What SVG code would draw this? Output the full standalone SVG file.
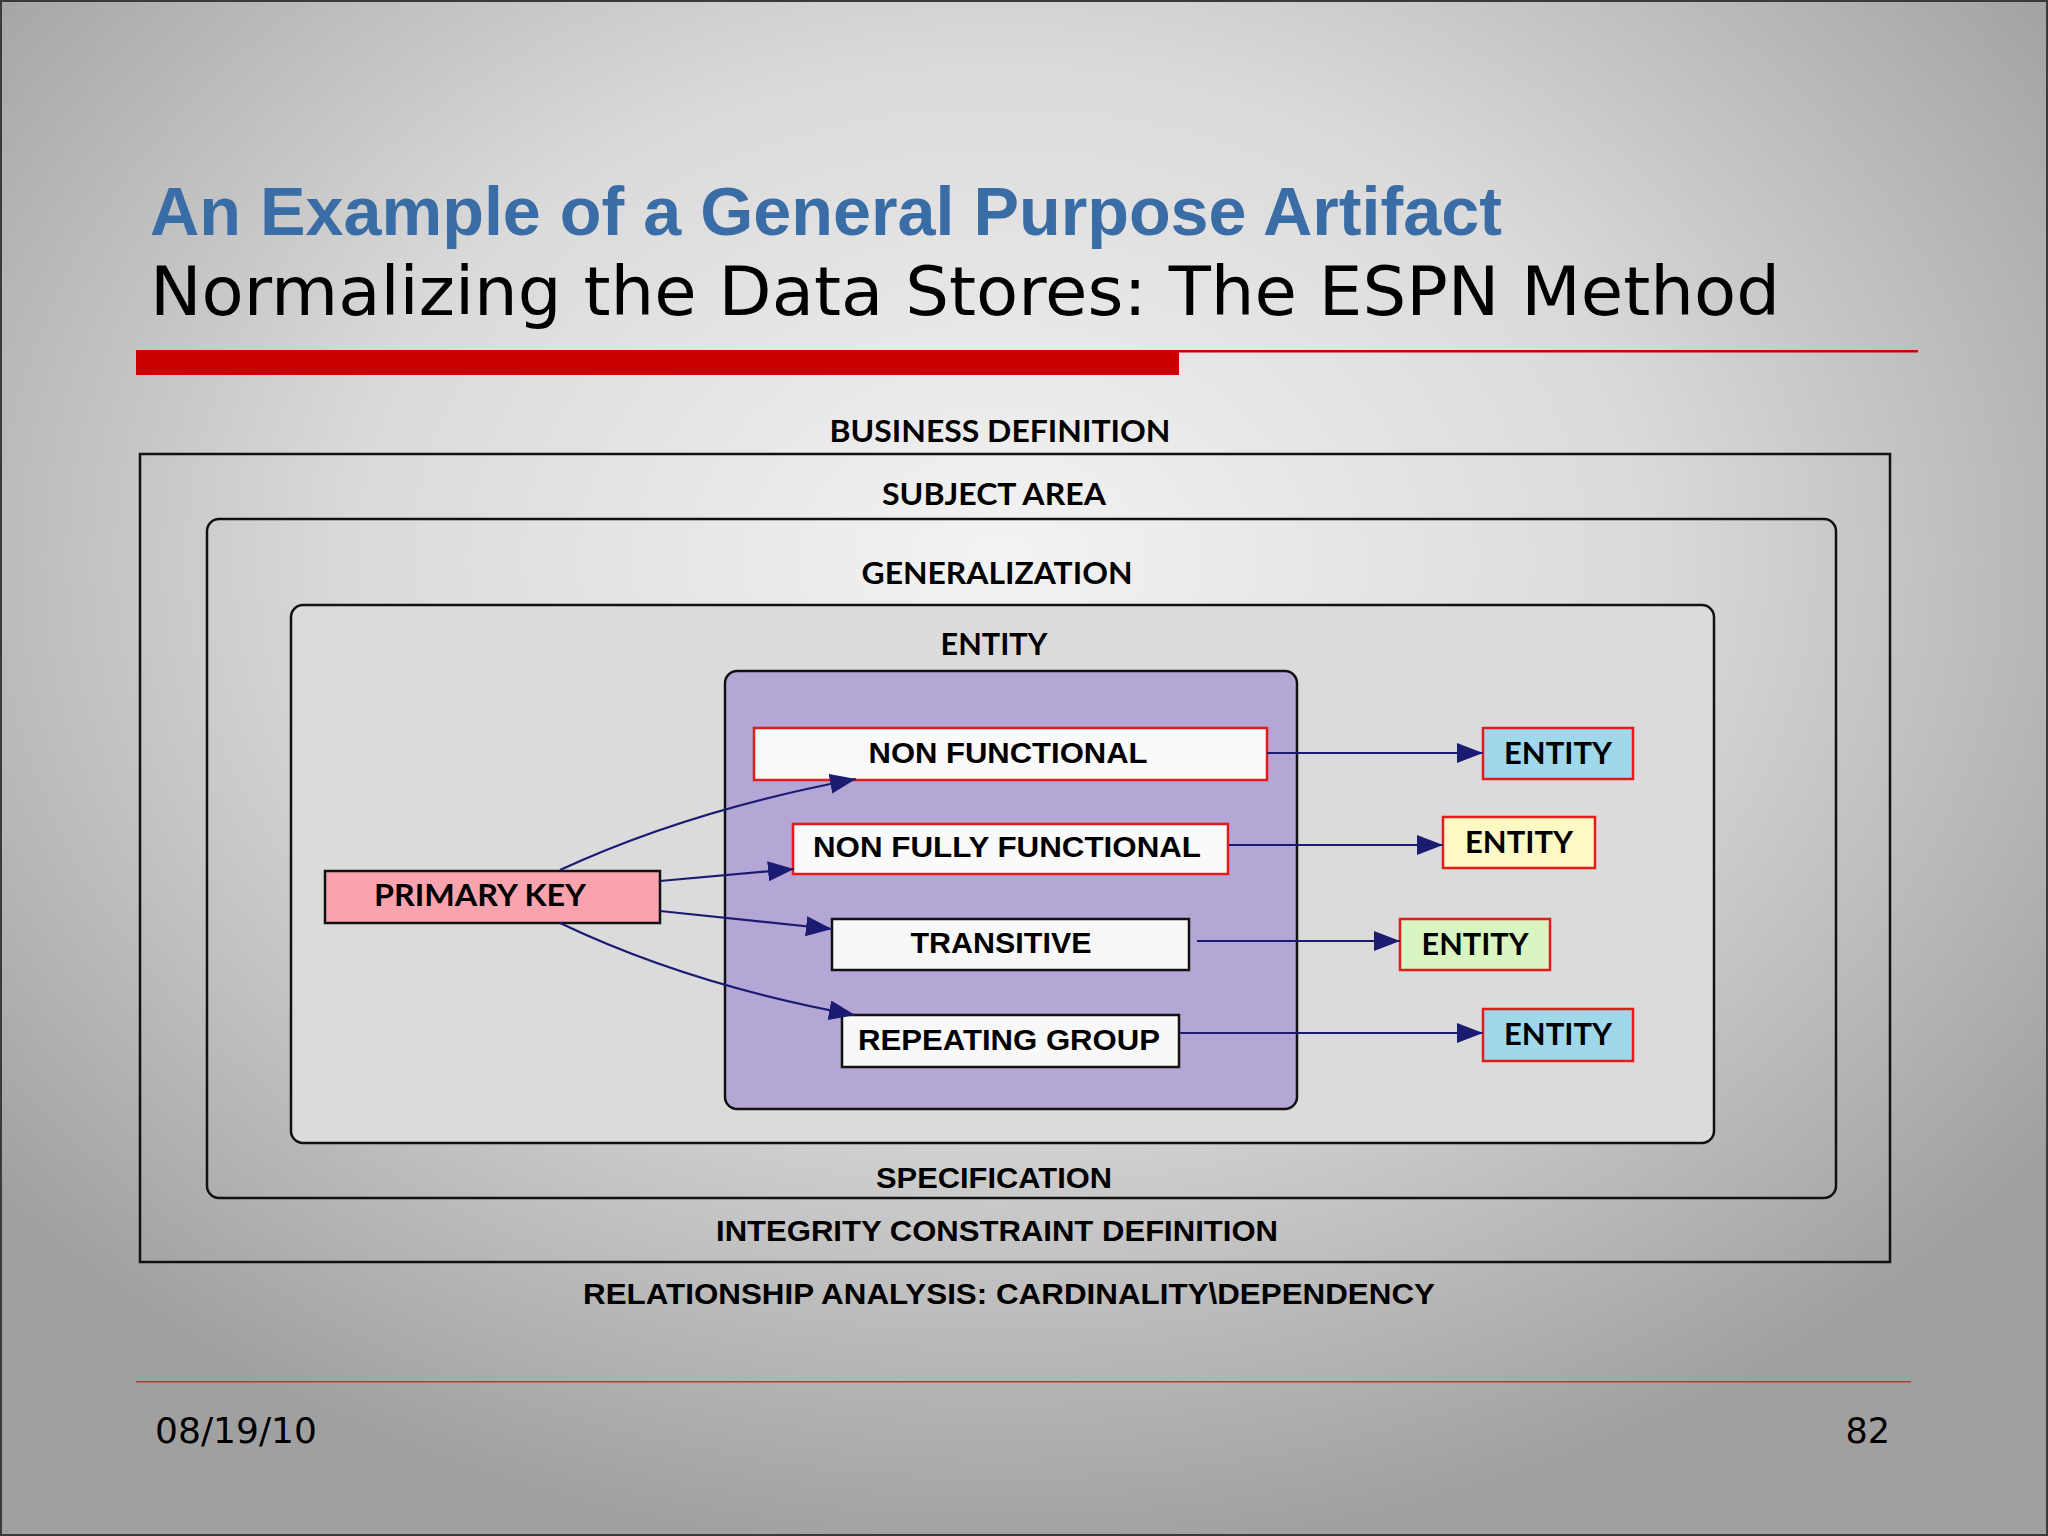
<svg xmlns="http://www.w3.org/2000/svg" width="2048" height="1536" viewBox="0 0 2048 1536">
  <defs>
    <radialGradient id="bg" gradientUnits="userSpaceOnUse" cx="1000" cy="560" r="1000" gradientTransform="translate(1000,560) scale(1.3,1) translate(-1000,-560)">
      <stop offset="0" stop-color="#f3f3f3"/>
      <stop offset="0.5" stop-color="#dadada"/>
      <stop offset="1" stop-color="#a0a0a0"/>
    </radialGradient>
    <marker id="arr" markerUnits="userSpaceOnUse" markerWidth="26" markerHeight="20" refX="26" refY="10" orient="auto">
      <path d="M0,0 L26,10 L0,20 z" fill="#1b1b72"/>
    </marker>
    <style>
      .frame { fill: none; stroke: #111; stroke-width: 2.5; }
      .lbl { font-family: Lato, "Open Sans", "Liberation Sans", sans-serif; font-weight: bold; font-size: 31px; fill: #000; }
      .box { font-family: "Liberation Sans", Arial, sans-serif; font-weight: bold; font-size: 29px; fill: #000; }
      .nar { font-family: "Liberation Sans Narrow", "Liberation Sans", Arial, sans-serif; font-weight: bold; font-size: 29px; fill: #000; }
      .ent { font-family: Lato, "Open Sans", "Liberation Sans", sans-serif; font-weight: bold; font-size: 30px; fill: #000; }
      .conn { fill: none; stroke: #1b1b72; stroke-width: 2.2; marker-end: url(#arr); }
      .redbox { stroke: #e41b1b; stroke-width: 2.5; }
      .blkbox { stroke: #111; stroke-width: 2.5; }
    </style>
  </defs>

  <!-- slide background -->
  <rect x="0" y="0" width="2048" height="1536" fill="url(#bg)"/>
  <rect x="1" y="1" width="2046" height="1534" fill="none" stroke="#3a3a3a" stroke-width="2"/>

  <!-- title -->
  <g id="title">
    <text x="150" y="235" font-family="'Liberation Sans', Arial, sans-serif" font-weight="bold" font-size="68" fill="#3a6ca6" textLength="1352" lengthAdjust="spacingAndGlyphs">An Example of a General Purpose Artifact</text>
    <text x="150" y="315" font-family="'DejaVu Sans', Verdana, sans-serif" font-size="67" fill="#000" textLength="1630" lengthAdjust="spacingAndGlyphs">Normalizing the Data Stores: The ESPN Method</text>
    <rect x="136" y="350" width="1043" height="25" fill="#cc0000"/>
    <rect x="1179" y="350" width="739" height="2.5" fill="#cc0000"/>
  </g>

  <!-- nested frames -->
  <g id="business-definition">
    <text class="lbl" x="1000" y="442" text-anchor="middle" textLength="341" lengthAdjust="spacingAndGlyphs">BUSINESS DEFINITION</text>
    <rect class="frame" x="140" y="454" width="1750" height="808"/>
  </g>
  <g id="subject-area">
    <text class="lbl" x="994" y="505" text-anchor="middle" textLength="224" lengthAdjust="spacingAndGlyphs">SUBJECT AREA</text>
    <rect class="frame" x="207" y="519" width="1629" height="679" rx="12" ry="12"/>
  </g>
  <g id="generalization">
    <text class="lbl" x="997" y="584" text-anchor="middle" textLength="271" lengthAdjust="spacingAndGlyphs">GENERALIZATION</text>
    <rect class="frame" x="291" y="605" width="1423" height="538" rx="12" ry="12" style="fill:#dbdbdb"/>
  </g>
  <g id="entity-label">
    <text class="lbl" x="994" y="655" text-anchor="middle" textLength="107" lengthAdjust="spacingAndGlyphs">ENTITY</text>
  </g>
  <g id="entity-container">
    <rect x="725" y="671" width="572" height="438" rx="12" ry="12" fill="#b4a7d6" stroke="#111" stroke-width="2.5"/>
  </g>

  <!-- nodes -->
  <g id="primary-key">
    <rect x="325" y="871" width="335" height="52" fill="#f8a3ae" class="blkbox"/>
    <text class="ent" x="480" y="906" text-anchor="middle" textLength="212" lengthAdjust="spacingAndGlyphs">PRIMARY KEY</text>
  </g>
  <g id="non-functional">
    <rect x="754" y="728" width="513" height="52" fill="#fafafa" class="redbox"/>
    <text class="box" x="1008" y="763" text-anchor="middle" textLength="279" lengthAdjust="spacingAndGlyphs">NON FUNCTIONAL</text>
  </g>
  <g id="non-fully-functional">
    <rect x="793" y="824" width="435" height="50" fill="#fafafa" class="redbox"/>
    <text class="box" x="1007" y="857" text-anchor="middle" textLength="388" lengthAdjust="spacingAndGlyphs">NON FULLY FUNCTIONAL</text>
  </g>
  <g id="transitive">
    <rect x="832" y="919" width="357" height="51" fill="#f8f8f8" class="blkbox"/>
    <text class="box" x="1001" y="953" text-anchor="middle" textLength="181" lengthAdjust="spacingAndGlyphs">TRANSITIVE</text>
  </g>
  <g id="repeating-group">
    <rect x="842" y="1015" width="337" height="52" fill="#f8f8f8" class="blkbox"/>
    <text class="box" x="1009" y="1050" text-anchor="middle" textLength="302" lengthAdjust="spacingAndGlyphs">REPEATING GROUP</text>
  </g>
  <g id="entity-1">
    <rect x="1483" y="728" width="150" height="51" fill="#9ed8ea" class="redbox"/>
    <text class="ent" x="1558" y="764" text-anchor="middle" textLength="108" lengthAdjust="spacingAndGlyphs">ENTITY</text>
  </g>
  <g id="entity-2">
    <rect x="1443" y="817" width="152" height="51" fill="#fdf9c4" class="redbox"/>
    <text class="ent" x="1519" y="853" text-anchor="middle" textLength="108" lengthAdjust="spacingAndGlyphs">ENTITY</text>
  </g>
  <g id="entity-3">
    <rect x="1400" y="919" width="150" height="51" fill="#d9f5c2" class="redbox"/>
    <text class="ent" x="1475" y="955" text-anchor="middle" textLength="107" lengthAdjust="spacingAndGlyphs">ENTITY</text>
  </g>
  <g id="entity-4">
    <rect x="1483" y="1009" width="150" height="52" fill="#9ed8ea" class="redbox"/>
    <text class="ent" x="1558" y="1045" text-anchor="middle" textLength="108" lengthAdjust="spacingAndGlyphs">ENTITY</text>
  </g>

  <!-- connectors -->
  <g id="connectors">
    <path class="conn" d="M1267,753 H1483"/>
    <path class="conn" d="M1229,845 H1443"/>
    <path class="conn" d="M1197,941 H1400"/>
    <path class="conn" d="M1179,1033 H1483"/>
    <path class="conn" d="M560,870 Q690,810 856,779"/>
    <path class="conn" d="M660,881 L794,869"/>
    <path class="conn" d="M660,911 L832,929"/>
    <path class="conn" d="M560,923 Q690,985 855,1015"/>
  </g>

  <!-- bottom labels -->
  <g id="specification">
    <text class="nar" x="994" y="1188" text-anchor="middle" textLength="236" lengthAdjust="spacingAndGlyphs">SPECIFICATION</text>
  </g>
  <g id="integrity-constraint">
    <text class="nar" x="997" y="1241" text-anchor="middle" textLength="562" lengthAdjust="spacingAndGlyphs">INTEGRITY CONSTRAINT DEFINITION</text>
  </g>
  <g id="relationship-analysis">
    <text class="nar" x="1009" y="1304" text-anchor="middle" textLength="852" lengthAdjust="spacingAndGlyphs">RELATIONSHIP ANALYSIS: CARDINALITY\DEPENDENCY</text>
  </g>

  <!-- footer -->
  <g id="footer">
    <rect x="136" y="1381" width="1775" height="1.5" fill="#d03030"/>
    <text x="155" y="1443" font-family="'DejaVu Sans', Verdana, sans-serif" font-size="35" fill="#000" textLength="162" lengthAdjust="spacingAndGlyphs">08/19/10</text>
    <text x="1890" y="1443" font-family="'DejaVu Sans', Verdana, sans-serif" font-size="35" fill="#000" text-anchor="end">82</text>
  </g>
</svg>
